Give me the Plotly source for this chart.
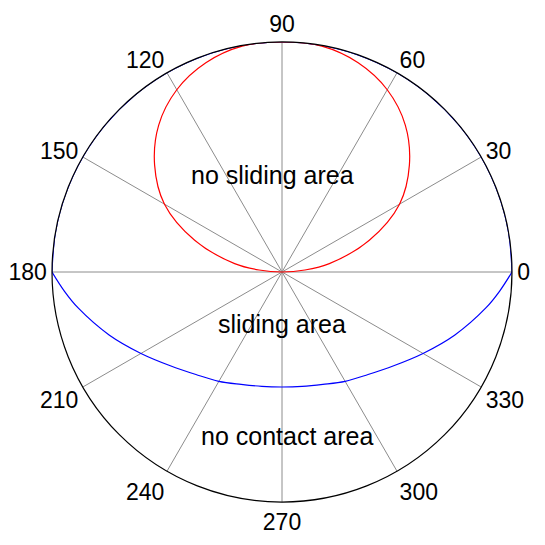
import plotly.graph_objs as go

# red curve (no sliding boundary), angle in degrees
red_theta = [0, 5, 10, 20, 30, 40, 50, 60, 70, 80, 90,
             100, 110, 120, 130, 140, 150, 160, 170, 175, 180]
red_r = [0.0, 0.10, 0.209, 0.404, 0.59, 0.723, 0.834, 0.915, 0.968, 0.997, 1.0,
         0.997, 0.968, 0.915, 0.834, 0.723, 0.59, 0.404, 0.209, 0.10, 0.0]

# blue curve, upper half follows the unit circle
blue_up_theta = [0, 10, 20, 30, 40, 50, 60, 70, 80, 90,
                 100, 110, 120, 130, 140, 150, 160, 170, 180]
blue_up_r = [1.0] * len(blue_up_theta)

# blue curve, lower half (sliding boundary)
blue_lo_theta = [180, 185, 190, 200, 210, 220, 230, 240, 250, 260, 270,
                 280, 290, 300, 310, 320, 330, 340, 350, 355, 360]
blue_lo_r = [1.0, 0.95, 0.90, 0.80, 0.708, 0.634, 0.582, 0.549, 0.52, 0.505, 0.5,
             0.505, 0.52, 0.549, 0.582, 0.634, 0.708, 0.80, 0.90, 0.95, 1.0]

tick_vals = [0, 30, 60, 90, 120, 150, 180, 210, 240, 270, 300, 330]
tick_text = [str(v) for v in tick_vals]

labels = ['no sliding area', 'sliding area', 'no contact area']
label_x = [0.480, 0.500, 0.511]
label_y = [0.745, 0.388, 0.108]

fig = go.Figure()
fig.add_trace(go.Scatterpolar(r=blue_up_r, theta=blue_up_theta, mode='lines',
                              line=dict(color='#0000ff', width=1.2, shape='spline')))
fig.add_trace(go.Scatterpolar(r=blue_lo_r, theta=blue_lo_theta, mode='lines',
                              line=dict(color='#0000ff', width=1.2, shape='spline')))
fig.add_trace(go.Scatterpolar(r=red_r, theta=red_theta, mode='lines',
                              line=dict(color='#ff0000', width=1.2, shape='spline')))

font = dict(family='Liberation Sans, Arial, sans-serif', size=25, color='black')
tick_font = dict(family='Liberation Sans, Arial, sans-serif', size=23, color='black')

# page body adds an 8px offset, so margins are shifted to compensate
fig.update_layout(
    width=545, height=545,
    showlegend=False,
    paper_bgcolor='white',
    margin=dict(l=44, r=41, t=34, b=51),
    font=font,
    polar=dict(
        bgcolor='white',
        domain=dict(x=[0, 1], y=[0, 1]),
        radialaxis=dict(range=[0, 1], visible=False, showgrid=False),
        angularaxis=dict(
            direction='counterclockwise', rotation=0,
            tickmode='array', tickvals=tick_vals, ticktext=tick_text,
            showline=True, linecolor='black', linewidth=1.2,
            showgrid=True, gridcolor='#8c8c8c', gridwidth=1,
            ticks='',
            tickfont=tick_font,
        ),
    ),
)

for txt, x, y in zip(labels, label_x, label_y):
    fig.add_annotation(text=txt, x=x, y=y, xref='paper', yref='paper',
                       showarrow=False, font=font)

fig.write_html("out.html")
